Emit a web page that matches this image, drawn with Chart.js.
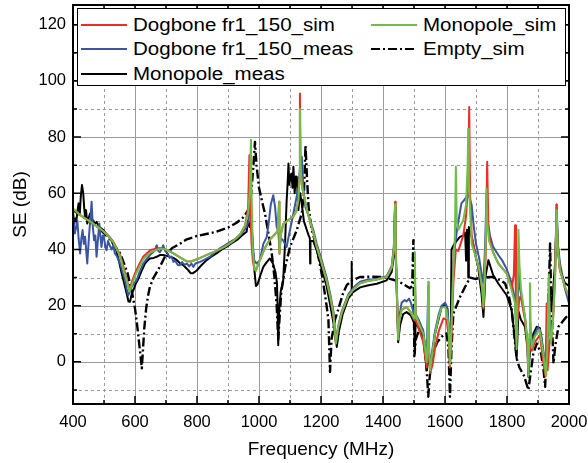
<!DOCTYPE html>
<html>
<head>
<meta charset="utf-8">
<script src="https://cdn.jsdelivr.net/npm/chart.js@4.4.1/dist/chart.umd.min.js"></script>
<style>
  html, body { margin: 0; padding: 0; background: #fff; }
  #wrap { position: relative; width: 588px; height: 463px; }
  #legend { position: absolute; left: 77px; top: 8px; width: 487px; height: 76px;
            border: 1.5px solid #000; background: #fff;
            font-family: "Liberation Sans", Arial, sans-serif; font-size: 18px; color: #000; }
  .item { position: absolute; height: 24px; width: 230px; }
  .item svg { position: absolute; left: 0; top: 0; }
  .item span { position: absolute; left: 53px; top: 2px; line-height: 20px; white-space: nowrap;
               transform: scaleX(1.14); transform-origin: left center; }
</style>
</head>
<body>
<div id="wrap">
  <canvas id="c" width="588" height="463"></canvas>
  <div id="legend"></div>
</div>
<script>
// Frequency axis (MHz) and SE axis (dB)
const xLabelTicks = [400, 600, 800, 1000, 1200, 1400, 1600, 1800, 2000];
const xMinorTicks = [500, 700, 900, 1100, 1300, 1500, 1700, 1900];
const yLabelTicks = [0, 20, 40, 60, 80, 100, 120];
const yMinorTicks = [-10, 10, 30, 50, 70, 90, 110];

// [frequency MHz, SE dB]
const dogboneSim = [[400,54.5],[420,52.5],[440,51],[455,50],[480,48],[498,46.5],[515,44.8],[530,42.8],[552,38],[565,33],[573,29.5],[582,25.5],[590,28.5],[600,31.5],[615,35],[627,37.5],[650,39.8],[681,40.5],[700,40],[724,38.6],[745,37.2],[767,35.8],[780,35.7],[800,36.5],[830,38],[863,39.5],[890,41],[917,43],[940,45.5],[955,48.5],[965,55],[969,73.5],[972,55],[976,42],[980,36],[985,33],[990,32.5],[1000,35.5],[1019,40.5],[1035,43.5],[1052,45.5],[1060,46.5],[1064,55],[1065,57],[1066,38.5],[1070,45],[1078,49],[1095,50.5],[1111,51.8],[1120,53.5],[1127,57.5],[1130,65],[1132,95.5],[1134,70],[1138,63],[1143,60],[1155,54],[1165,50],[1175,46],[1186,41],[1200,36],[1218,29],[1230,23],[1240,17],[1248,6.5],[1255,12],[1267,17.5],[1288,23.5],[1310,26.5],[1326,28],[1350,28.8],[1380,29.3],[1412,30.2],[1428,33.5],[1435,40],[1439,57],[1441,40],[1449,8],[1453,15],[1460,18.5],[1476,19.6],[1490,17.5],[1500,15],[1503,30],[1505,15],[1515,12],[1530,7],[1541,-2],[1546,8],[1552,-4],[1560,-1],[1568,5],[1580,11],[1595,15.5],[1605,15],[1612,9],[1616,-2],[1620,6],[1627,28],[1635,40],[1643,39.5],[1659,45],[1668,52],[1673,60],[1675,70],[1678,90.7],[1681,60],[1686,45],[1700,37],[1710,33],[1720,26],[1724,19],[1728,28],[1732,40],[1736,71.2],[1740,48],[1745,43],[1755,39],[1772,35],[1799,31.5],[1815,26],[1822,31],[1826,48.6],[1829,20],[1834,15],[1840,23],[1845,23],[1858,15],[1866,6],[1869,-3],[1873,6],[1880,4],[1890,7],[1906,9.5],[1917,0],[1924,-5],[1928,20.8],[1931,-3],[1938,8],[1942,7],[1949,16],[1955,30],[1960,56],[1964,40],[1971,32.5],[1987,26.7],[2000,23]];

const monopoleSim = [[400,54.5],[420,52.5],[440,51],[455,50],[480,48],[498,46.5],[515,44.5],[530,42.5],[552,37.5],[565,32],[573,29],[582,25],[590,27.5],[600,30.5],[615,34],[627,36.5],[650,39],[681,40.3],[700,40],[724,38.6],[745,37.2],[767,35.8],[780,35.7],[800,36.5],[830,38],[863,39.5],[890,41],[917,43],[940,45.5],[955,48.5],[965,53],[970,60],[974,79],[976,60],[980,40],[985,33],[990,32.5],[1000,35.5],[1019,40.5],[1035,43.5],[1052,45.5],[1060,46.5],[1064,55],[1065,57],[1066,38.5],[1070,45],[1078,49],[1095,50.5],[1111,51.8],[1120,53.5],[1127,57.5],[1130,65],[1132,90],[1134,70],[1138,63],[1143,60],[1155,54],[1165,50],[1175,46],[1186,41],[1200,36],[1218,29],[1230,23],[1240,17],[1248,6.5],[1255,12],[1267,17.5],[1288,23.5],[1310,26.5],[1326,28],[1350,28.8],[1380,29.3],[1412,30.2],[1428,33.5],[1435,40],[1439,56],[1441,40],[1449,8],[1453,15],[1460,18.5],[1476,19.6],[1490,17.5],[1500,15.5],[1503,39],[1505,17],[1515,14],[1530,10],[1541,0],[1544,8],[1546,28.5],[1548,5],[1552,-3],[1560,4],[1568,10],[1580,16],[1589,19.3],[1600,19.5],[1605,18.5],[1612,12],[1616,-1],[1620,10],[1627,33.5],[1632,45],[1635,69.5],[1638,50],[1643,47],[1659,50.5],[1668,56],[1673,70],[1675,83],[1677,65],[1681,54],[1686,42],[1700,37],[1710,33],[1720,26],[1724,19.6],[1728,30],[1732,45],[1734,61.7],[1736,50],[1742,43],[1755,39],[1772,35],[1799,31.5],[1815,25.5],[1826,20.8],[1831,4.5],[1834,25],[1837,47],[1840,35],[1845,26],[1858,16],[1866,7],[1869,-5],[1872,10],[1874,28],[1876,15],[1880,5],[1890,9],[1905,11.5],[1917,3],[1926,-5],[1930,5],[1935,31],[1938,10],[1942,7],[1949,16],[1955,30],[1960,54],[1964,40],[1971,32.5],[1987,26.7],[2000,23]];

const dogboneMeas = [[400,51.6],[406,45.7],[410,48],[414,50.4],[418,44],[423,38.6],[427,44],[431,46.9],[435,42],[439,44.5],[446,35],[450,42],[453,46.9],[457,52],[460,57],[464,48],[468,43.3],[472,45],[476,37.4],[480,43],[485,49.2],[489,44],[492,40.9],[496,45],[500,44.5],[504,41],[508,39.7],[513,43],[518,41.5],[525,40],[530,41.5],[535,38.6],[542,37.5],[552,35],[560,32],[568,29],[573,26],[578,23.7],[584,25],[589,26.7],[597,28],[605,29],[615,32],[627,35],[637,36.5],[648,38],[658,39],[665,40],[670,41.5],[675,39.5],[680,39],[686,40],[691,41.5],[697,39.5],[705,38.6],[712,37],[718,37.5],[724,35.6],[730,36],[738,34.5],[745,34.4],[752,35.5],[760,34.5],[767,35],[775,34],[782,35],[788,33.8],[795,35],[810,35.6],[826,36.5],[842,37.4],[858,39],[874,40.4],[890,41.5],[905,42.5],[917,43.3],[929,44],[939,45],[950,46.5],[960,48],[966,50],[970,55],[973,62],[976,50],[980,40],[985,36],[992,35],[1003,36.2],[1014,42],[1025,44.5],[1032,50],[1038,56],[1046,59.3],[1052,55],[1057,48],[1062,47],[1066,40],[1070,44],[1078,43.3],[1089,40.9],[1100,46.9],[1111,52.8],[1120,58],[1127,62],[1133,70],[1138,73],[1143,62],[1150,55],[1160,52],[1175,47],[1186,42],[1200,37],[1218,30],[1230,24],[1240,18],[1248,7],[1255,12.5],[1267,18],[1288,24],[1310,27],[1326,28.5],[1350,29.2],[1380,29.5],[1412,30.5],[1428,34],[1435,41],[1439,55],[1441,40],[1449,10],[1454,17],[1460,21],[1470,22],[1476,21.5],[1484,22.5],[1490,21],[1500,17],[1503,30],[1505,17],[1515,15],[1530,11],[1541,1],[1546,27],[1549,4],[1552,-2],[1560,5],[1568,11],[1580,17],[1589,20],[1600,21],[1605,20],[1612,13],[1616,1],[1620,12],[1627,35],[1633,42],[1640,48],[1653,56.4],[1665,58],[1675,60],[1680,58],[1686,55.8],[1693,48],[1700,42],[1710,37],[1720,30],[1724,28],[1729,40],[1734,60],[1738,50],[1745,45],[1755,41],[1772,38],[1785,36],[1799,33],[1815,28],[1826,22],[1831,8],[1835,20],[1837,35],[1841,27],[1850,21],[1858,16],[1866,7],[1869,-3],[1874,8],[1880,6],[1890,10],[1900,12.3],[1910,10],[1917,4],[1926,-3],[1930,6],[1935,25],[1939,12],[1944,10],[1949,18],[1955,32],[1960,56],[1964,42],[1971,35],[1987,26],[2000,20.8]];

const emptySim = [[400,54],[440,51],[480,48],[520,43.5],[552,38.6],[575,32],[590,25],[600,19],[608,12],[614,6],[619,1],[622,-2.3],[625,3],[630,12],[636,19],[642,23.5],[648,26.7],[660,30],[681,34],[699,38],[720,40.5],[745,42],[767,43.6],[800,44.8],[830,45.5],[863,46.3],[900,47.8],[928,49.5],[950,51.5],[965,54],[975,60],[982,70],[987,78.3],[992,70],[1000,62],[1010,57],[1019,52.9],[1030,46],[1041,38.7],[1050,30],[1057,20],[1062,8],[1066,15],[1072,25],[1085,34],[1100,40.9],[1122,46.9],[1138,52.9],[1145,60],[1150,77],[1155,65],[1160,55],[1170,47],[1186,40.9],[1206,29],[1218,20],[1224,14.8],[1229,-3.6],[1234,8],[1245,15],[1255,18.4],[1270,24],[1283,27.3],[1300,29],[1326,30.2],[1360,30.3],[1400,30.2],[1439,29],[1460,28],[1475,27],[1487,26.2],[1494,27],[1498,43.3],[1501,2],[1506,8],[1515,11],[1525,12.5],[1535,6],[1541,-3],[1546,-12.4],[1551,-5],[1560,3],[1575,7],[1590,9],[1605,10.1],[1611,5],[1616,-12.4],[1621,5],[1627,17.2],[1648,23],[1665,26.7],[1681,30],[1697,29.5],[1720,30],[1751,30.2],[1780,29],[1794,27.9],[1805,24],[1815,18.4],[1823,10],[1831,1.2],[1840,-2],[1855,-5],[1869,-10],[1875,-5],[1885,3],[1896,6.5],[1910,3],[1918,-3],[1923,-8.9],[1930,10],[1936,30],[1939,42.1],[1943,20],[1950,-0.6],[1956,6],[1966,12.5],[1987,15.4],[2000,17]];

const monopoleMeas = [[400,53.4],[404,49.2],[408,51],[411,50.4],[415,54],[418,56.4],[422,53],[425,58.7],[429,62.9],[433,60],[436,55],[439,51.6],[442,54],[446,49.2],[450,51],[455,52.8],[460,50],[465,50.4],[470,49],[476,49.8],[485,48],[498,46.9],[508,45.5],[519,44],[530,42],[541,39.2],[550,35],[557,31.5],[565,28],[573,24.4],[579,21.5],[584,21.4],[589,24],[595,25.5],[603,28],[611,29.6],[620,32],[632,35],[640,36],[648,36.8],[660,37],[670,37.4],[680,38],[691,38],[700,37.8],[713,37.4],[724,37],[735,36.2],[746,35],[756,34.4],[764,33.5],[772,32.6],[780,31.5],[786,31.5],[793,32],[800,32.6],[815,34.5],[831,36.2],[847,37.5],[863,38.6],[880,40],[896,41],[912,42.2],[928,43.3],[945,45],[960,46.3],[965,50.4],[970,48],[975,50],[980,42],[985,33],[990,27],[995,27.5],[1005,31],[1014,33.8],[1025,35.5],[1035,36.8],[1045,35],[1053,32],[1058,28],[1060,20],[1062,5.9],[1065,18],[1070,25],[1078,29],[1084,42],[1089,57],[1093,65],[1095,70.6],[1098,63],[1101,66],[1105,67],[1108,62],[1111,69.4],[1115,60],[1119,66],[1122,65.8],[1125,58],[1127,54],[1130,58],[1133,60],[1138,56],[1145,50],[1154,47],[1160,45],[1164,44],[1165,35],[1166,43],[1175,43],[1186,39.7],[1200,34],[1218,27],[1230,20],[1240,14],[1251,5.3],[1258,11],[1270,17],[1288,22.5],[1298,24],[1299,35.6],[1300,24.5],[1326,26.5],[1350,27.2],[1380,27.8],[1412,29],[1428,32],[1435,38],[1439,55],[1441,38],[1449,7],[1455,13],[1465,17],[1476,17.7],[1490,16.5],[1500,14],[1503,3],[1505,14],[1515,12],[1530,8],[1541,-3],[1546,3],[1552,-3],[1568,10],[1589,19.5],[1600,20.5],[1608,19],[1616,-2],[1619,15],[1621,40],[1630,42],[1648,44.5],[1660,45],[1665,46],[1668,36],[1671,47],[1674,46],[1675,30],[1677,48],[1686,44.5],[1700,37],[1707,33.8],[1718,24],[1724,16],[1730,30],[1740,36.2],[1755,31],[1772,27.9],[1799,23.7],[1815,18.4],[1826,7.7],[1831,1.2],[1837,18],[1845,15],[1858,12.5],[1866,5],[1869,-5.3],[1875,6],[1885,10],[1896,12.5],[1906,12],[1915,5],[1923,-4.1],[1930,10],[1938,25],[1945,20],[1955,35],[1960,50.4],[1965,40],[1971,32.6],[1987,28],[2000,27]];

const seriesNames = ['Dogbone fr1_150_sim', 'Monopole_sim', 'Dogbone fr1_150_meas', 'Empty_sim', 'Monopole_meas'];

const RED = '#ec2e26', GREEN = '#6dbf45', BLUE = '#3a54a6', BLACK = '#000000';
const DASHDOT = [9, 3, 2, 3];
const FONT = '"Liberation Sans", Arial, sans-serif';

const toPts = arr => arr.map(p => ({ x: p[0], y: p[1] }));

// Grid: dashed minor lines, solid major lines, drawn beneath the curves
const gridPlugin = {
  id: 'seGrid',
  beforeDatasetsDraw(chart) {
    const { ctx, chartArea: a, scales: { x, y } } = chart;
    ctx.save();
    ctx.strokeStyle = '#9b9b9b';
    ctx.lineWidth = 1;
    const vline = v => { const p = Math.round(x.getPixelForValue(v)) + 0.5; ctx.beginPath(); ctx.moveTo(p, a.top); ctx.lineTo(p, a.bottom); ctx.stroke(); };
    const hline = v => { const p = Math.round(y.getPixelForValue(v)) + 0.5; ctx.beginPath(); ctx.moveTo(a.left, p); ctx.lineTo(a.right, p); ctx.stroke(); };
    ctx.setLineDash([3, 3]);
    xMinorTicks.forEach(vline);
    yMinorTicks.forEach(hline);
    ctx.setLineDash([]);
    xLabelTicks.forEach(vline);
    yLabelTicks.forEach(hline);
    ctx.restore();
  },
  afterDatasetsDraw(chart) {
    const { ctx, chartArea: a, scales: { x, y } } = chart;
    ctx.save();
    ctx.strokeStyle = '#000';
    ctx.lineWidth = 1.5;
    const tickX = (v, len) => { const p = x.getPixelForValue(v);
      ctx.beginPath(); ctx.moveTo(p, a.bottom); ctx.lineTo(p, a.bottom - len);
      ctx.moveTo(p, a.top); ctx.lineTo(p, a.top + len); ctx.stroke(); };
    const tickY = (v, len) => { const p = y.getPixelForValue(v);
      ctx.beginPath(); ctx.moveTo(a.left, p); ctx.lineTo(a.left + len, p);
      ctx.moveTo(a.right, p); ctx.lineTo(a.right - len, p); ctx.stroke(); };
    xLabelTicks.forEach(v => tickX(v, 8));
    xMinorTicks.forEach(v => tickX(v, 4));
    yLabelTicks.forEach(v => tickY(v, 8));
    yMinorTicks.forEach(v => tickY(v, 4));
    ctx.lineWidth = 2;
    ctx.strokeRect(a.left, a.top, a.right - a.left, a.bottom - a.top);
    ctx.restore();
  }
};

// Fixed axis boxes so the plot area spans x 73..569, y 5..404
const fixX = s => { s.height = 59; s.paddingLeft = 0; s.paddingRight = 0; };
const fixY = s => { s.width = 73; s.paddingTop = 0; s.paddingBottom = 0; };

new Chart(document.getElementById('c'), {
  type: 'line',
  data: {
    datasets: [
      { label: seriesNames[1], data: toPts(monopoleSim), borderColor: GREEN, borderWidth: 2 },
      { label: seriesNames[0], data: toPts(dogboneSim), borderColor: RED, borderWidth: 2 },
      { label: seriesNames[2], data: toPts(dogboneMeas), borderColor: BLUE, borderWidth: 2 },
      { label: seriesNames[3], data: toPts(emptySim), borderColor: BLACK, borderWidth: 2.4, borderDash: DASHDOT },
      { label: seriesNames[4], data: toPts(monopoleMeas), borderColor: BLACK, borderWidth: 2 }
    ]
  },
  options: {
    responsive: false,
    animation: false,
    devicePixelRatio: 1,
    layout: { padding: { top: 5, right: 19, left: 0, bottom: 0 } },
    elements: { point: { radius: 0 }, line: { tension: 0, fill: false, borderJoinStyle: 'round' } },
    plugins: { legend: { display: false }, tooltip: { enabled: false } },
    scales: {
      x: {
        type: 'linear', min: 400, max: 2000,
        afterBuildTicks: s => { s.ticks = xLabelTicks.map(v => ({ value: v })); },
        afterFit: fixX,
        grid: { display: false, drawTicks: false },
        border: { display: false },
        ticks: { color: '#000', font: { family: FONT, size: 16.5 }, padding: 9, maxRotation: 0, autoSkip: false,
                 callback: v => String(v) },
        title: { display: true, text: 'Frequency (MHz)', color: '#000', font: { family: FONT, size: 19 }, padding: { top: 0, bottom: 2 } }
      },
      y: {
        type: 'linear', min: -15, max: 127,
        afterBuildTicks: s => { s.ticks = yLabelTicks.map(v => ({ value: v })); },
        afterFit: fixY,
        grid: { display: false, drawTicks: false },
        border: { display: false },
        ticks: { color: '#000', font: { family: FONT, size: 16.5 }, padding: 7, callback: v => String(v) },
        title: { display: true, text: 'SE (dB)', color: '#000', font: { family: FONT, size: 19 }, padding: { top: 9, bottom: 0 } }
      }
    }
  },
  plugins: [gridPlugin]
});

// Two-column legend, filled row by row
const legendItems = [
  { name: seriesNames[0], color: RED, dash: null, left: 2, top: 4 },
  { name: seriesNames[1], color: GREEN, dash: null, left: 292, top: 4 },
  { name: seriesNames[2], color: BLUE, dash: null, left: 2, top: 28 },
  { name: seriesNames[3], color: BLACK, dash: DASHDOT, left: 292, top: 28 },
  { name: seriesNames[4], color: BLACK, dash: null, left: 2, top: 53 }
];
const legendBox = document.getElementById('legend');
legendItems.forEach(it => {
  const d = document.createElement('div');
  d.className = 'item';
  d.style.left = it.left + 'px';
  d.style.top = it.top + 'px';
  const dashAttr = it.dash ? ` stroke-dasharray="${it.dash.join(' ')}"` : '';
  d.innerHTML = `<svg width="48" height="24"><line x1="1" y1="12" x2="47" y2="12" stroke="${it.color}" stroke-width="2"${dashAttr}/></svg><span></span>`;
  d.querySelector('span').textContent = it.name;
  legendBox.appendChild(d);
});
</script>
</body>
</html>
